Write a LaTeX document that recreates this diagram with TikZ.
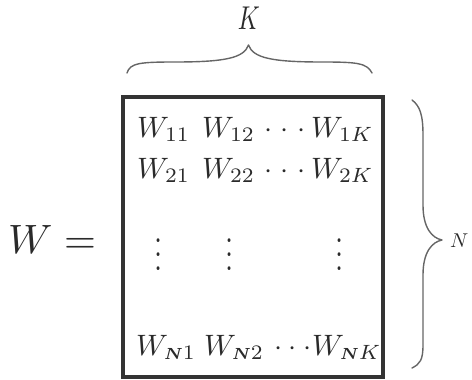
\documentclass[tikz,border=0pt]{standalone}
\usepackage{amsmath}
\usepackage{graphicx}
\definecolor{ink}{HTML}{2A2A2A}
\definecolor{boxc}{HTML}{333333}
\definecolor{bracec}{HTML}{666666}
\newcommand\myhdots[1]{\cdotp\mkern#1\cdotp\mkern#1\cdotp}
\newcommand\bN{\scalebox{0.78}{$\scriptstyle\boldsymbol{N}$}}
\begin{document}
\begin{tikzpicture}[x=1pt,y=-1pt,
  entry/.style={inner sep=0pt,anchor=base west,text=ink},
  vd/.style={inner sep=0pt,anchor=base,text=ink},
  bracepath/.style={draw=bracec,line width=1.4pt,line cap=round,line join=round}]
\useasboundingbox (0,0) rectangle (472,380);
% matrix frame
\draw[boxc,line width=4pt] (123,97) rectangle (383,377);
% left label
\node[inner sep=0pt,anchor=base west,text=ink] (lhs) at (8,253) {\scalebox{4.1}{$W =$}};
% row 1
\node[entry] (w11) at (137,137) {\scalebox{2.95}{$W_{11}$}};
\node[entry] (w12) at (202,137) {\scalebox{2.95}{$W_{12}$}};
\node[entry] (d1)  at (264,137) {\scalebox{2.9}{$\myhdots{2.3mu}$}};
\node[entry] (w1k) at (311,137) {\scalebox{2.95}{$W_{1K}$}};
% row 2
\node[entry] (w21) at (137,178) {\scalebox{2.95}{$W_{21}$}};
\node[entry] (w22) at (202,178) {\scalebox{2.95}{$W_{22}$}};
\node[entry] (d2)  at (264,178) {\scalebox{2.9}{$\myhdots{2.3mu}$}};
\node[entry] (w2k) at (311,178) {\scalebox{2.95}{$W_{2K}$}};
% vertical dots
\node[vd] (v1) at (159,270.5) {\scalebox{2.9}[3.5]{$\vdots$}};
\node[vd] (v2) at (230,270.5) {\scalebox{2.9}[3.5]{$\vdots$}};
\node[vd] (v3) at (340,270.5) {\scalebox{2.9}[3.5]{$\vdots$}};
% row N
\node[entry] (wn1) at (136,355) {\scalebox{2.95}{$W_{\bN 1}$}};
\node[entry] (wn2) at (204,355) {\scalebox{2.95}{$W_{\bN 2}$}};
\node[entry] (dn)  at (274,355) {\scalebox{2.9}{$\myhdots{1.2mu}$}};
\node[entry] (wnk) at (312,355) {\scalebox{2.95}{$W_{\bN K}$}};
% top brace
\draw[bracepath] (127,73) .. controls (130,63) and (140,62) .. (175,62)
  .. controls (225,62) and (244,58) .. (248.5,45)
  .. controls (253,58) and (272,62) .. (322,62)
  .. controls (357,62) and (367,63) .. (372,73);
\node[inner sep=0pt,anchor=base,text=ink] (klabel) at (249,29.5) {\scalebox{2.4}[3.3]{$K$}};
% right brace
\draw[bracepath] (412,100) .. controls (420,106) and (423,115) .. (423,135)
  -- (423,205) .. controls (423,228) and (432,238) .. (442,240)
  .. controls (432,242) and (423,252) .. (423,275)
  -- (423,345) .. controls (423,360) and (420,364) .. (412,368);
\node[inner sep=0pt,anchor=base west,text=ink] (nlabel) at (450,247.5) {\scalebox{2}{$N$}};
\end{tikzpicture}
\end{document}
